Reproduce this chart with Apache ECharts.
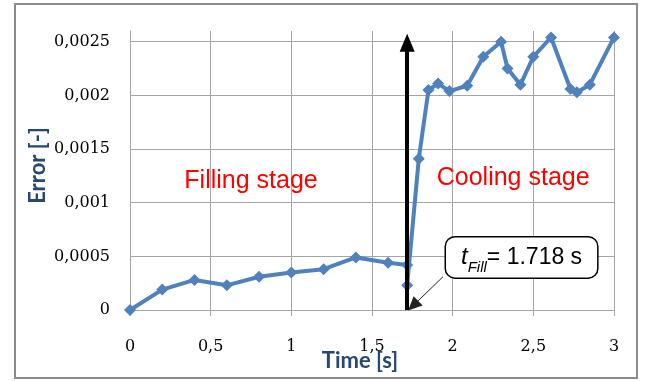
<!DOCTYPE html>
<html>
<head>
<meta charset="utf-8">
<script src="https://cdn.jsdelivr.net/npm/echarts@6/dist/echarts.min.js"></script>
<style>
html,body{margin:0;padding:0;background:#fff;}
#chart{width:649px;height:381px;}
</style>
</head>
<body>
<div id="chart"></div>
<script>
// Data
var timeValues  = [0, 0.2, 0.4, 0.6, 0.8, 1.0, 1.2, 1.4, 1.6, 1.718, 1.718, 1.79, 1.85, 1.91, 1.98, 2.09, 2.19, 2.30, 2.34, 2.42, 2.50, 2.61, 2.73, 2.77, 2.85, 3.0];
var errorValues = [0, 0.00019, 0.00028, 0.00023, 0.00031, 0.00035, 0.00038, 0.00049, 0.00044, 0.00042, 0.00023, 0.00141, 0.00205, 0.00211, 0.00204, 0.00209, 0.00236, 0.0025, 0.00225, 0.0021, 0.00236, 0.00254, 0.00206, 0.00203, 0.0021, 0.00254];
var tFill = 1.718;
var stageLabels = ['Filling stage', 'Cooling stage'];
var stageCoords = [[0.75, 0.0012], [2.375, 0.00123]];
var calloutCoord = [2.427, 0.00049];
var pointerFrom = [1.94, 0.00031];
var pointerTo = [1.755, 0.00004];
var arrowTop = 0.00249;

var seriesData = timeValues.map(function (t, i) { return [t, errorValues[i]]; });

var chart = echarts.init(document.getElementById('chart'), null, {renderer: 'canvas'});

var gridColor = '#a6a6a6';
var tickFont = 'DejaVu Serif';
var titleStyle = {fontFamily: 'Lato', fontWeight: 'bold', fontSize: 22, color: '#27486f'};

var option = {
  backgroundColor: '#ffffff',
  animation: false,
  grid: {left: 130, right: 35, top: 31, bottom: 71, containLabel: false, outerBoundsMode: 'none'},
  graphic: [{
    type: 'rect',
    shape: {x: 15, y: 4, width: 622, height: 374},
    style: {fill: 'none', stroke: '#8c8c8c', lineWidth: 2},
    silent: true
  }],
  xAxis: {
    type: 'value',
    min: 0, max: 3, interval: 0.5,
    name: 'Time [s]',
    nameLocation: 'middle',
    nameMoveOverlap: false,
    nameGap: 40,
    nameTextStyle: Object.assign({padding: [0, 24, 0, 0]}, titleStyle),
    axisLine: {show: true, lineStyle: {color: gridColor, width: 1}},
    axisTick: {show: true, length: 6, lineStyle: {color: gridColor}},
    axisLabel: {
      margin: 29, fontFamily: tickFont, fontSize: 16, color: '#000',
      formatter: function (v) { return String(Number(v.toFixed(2))).replace('.', ','); }
    },
    splitLine: {show: true, lineStyle: {color: gridColor, width: 1}}
  },
  yAxis: {
    type: 'value',
    min: 0, max: 0.0026, interval: 0.0005,
    name: 'Error [-]',
    nameLocation: 'middle',
    nameMoveOverlap: false,
    nameRotate: 90,
    nameGap: 81,
    nameTextStyle: Object.assign({padding: [0, 0, 0, 10]}, titleStyle),
    axisLine: {show: true, lineStyle: {color: gridColor, width: 1}},
    axisTick: {show: false},
    axisLabel: {
      margin: 20, fontFamily: tickFont, fontSize: 16, color: '#000',
      showMaxLabel: false,
      formatter: function (v) {
        if (v > 0.00255) return '';
        return String(Number(v.toFixed(4))).replace('.', ',');
      }
    },
    splitLine: {show: true, showMaxLine: false, lineStyle: {color: gridColor, width: 1}}
  },
  series: [{
    type: 'line',
    data: seriesData,
    symbol: 'diamond',
    symbolSize: 12,
    showAllSymbol: true,
    itemStyle: {color: '#4f81bd'},
    lineStyle: {color: '#4f81bd', width: 4},
    z: 3,
    markLine: {
      silent: true,
      animation: false,
      label: {show: false},
      data: [
        [
          {coord: [tFill, 0], symbol: 'none', lineStyle: {color: '#000', width: 4, type: 'solid'}},
          {coord: [tFill, arrowTop], symbol: 'triangle', symbolSize: [15, 18]}
        ],
        [
          {coord: pointerFrom, symbol: 'none', lineStyle: {color: '#222', width: 1, type: 'solid'}},
          {coord: pointerTo, symbol: 'triangle', symbolSize: [13, 14]}
        ]
      ]
    },
    markPoint: {
      silent: true,
      animation: false,
      symbol: 'circle',
      symbolSize: 0,
      data: [
        {
          coord: stageCoords[0],
          label: {show: true, position: 'inside', formatter: stageLabels[0],
                  fontFamily: 'Liberation Sans', fontSize: 25, color: '#ff0000'}
        },
        {
          coord: stageCoords[1],
          label: {show: true, position: 'inside', formatter: stageLabels[1],
                  fontFamily: 'Liberation Sans', fontSize: 25, color: '#ff0000'}
        },
        {
          coord: calloutCoord,
          label: {
            show: true, position: 'inside',
            formatter: '{t|t}{s|Fill}{n|= ' + tFill + ' s}',
            backgroundColor: '#ffffff',
            borderColor: '#000', borderWidth: 1.5, borderRadius: 9,
            padding: [8, 15, 8, 15],
            rich: {
              t: {fontFamily: 'Liberation Sans', fontStyle: 'italic', fontSize: 24, color: '#000', verticalAlign: 'bottom'},
              s: {fontFamily: 'Liberation Sans', fontStyle: 'italic', fontSize: 15, color: '#000', verticalAlign: 'bottom', padding: [0, 0, -6, 0]},
              n: {fontFamily: 'Liberation Sans', fontSize: 23, color: '#000', verticalAlign: 'bottom'}
            }
          }
        }
      ]
    }
  }]
};
chart.setOption(option);
</script>
</body>
</html>
